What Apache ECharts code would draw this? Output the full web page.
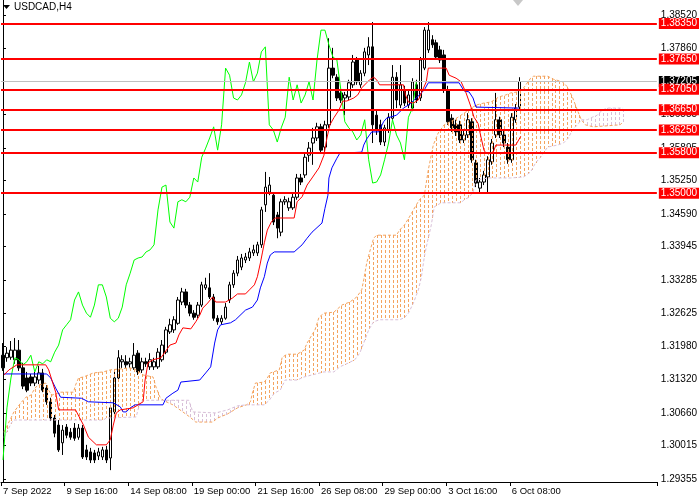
<!DOCTYPE html>
<html>
<head>
<meta charset="utf-8">
<script src="https://cdn.jsdelivr.net/npm/echarts@6/dist/echarts.min.js"></script>
<style>
  html, body { margin: 0; padding: 0; background: #fff; }
  #chart { width: 700px; height: 500px; }
</style>
</head>
<body>
<div id="chart"></div>
<script>
// USDCAD H4 with Ichimoku.
const symbolTitle = 'USDCAD,H4';

// one time label every 16 bars, bar 0 = 7 Sep 2022 00:00
const timeLabels = ['7 Sep 2022', '9 Sep 16:00', '14 Sep 08:00', '19 Sep 00:00', '21 Sep 16:00',
  '26 Sep 08:00', '29 Sep 00:00', '3 Oct 16:00', '6 Oct 08:00'];
const labelStep = 16;
const slotCount = 165; // bars + 26 bars of projected cloud + right margin

// [open, close, low, high]
const candles = [
  [1.3180, 1.3155, 1.3149, 1.3204], [1.3175, 1.3184, 1.3167, 1.3196], [1.3176, 1.3190, 1.3171, 1.3208],
  [1.3171, 1.3190, 1.3163, 1.3214], [1.3190, 1.3155, 1.3149, 1.3210], [1.3155, 1.3119, 1.3113, 1.3165],
  [1.3135, 1.3111, 1.3107, 1.3147], [1.3137, 1.3125, 1.3119, 1.3143], [1.3125, 1.3137, 1.3119, 1.3147],
  [1.3131, 1.3145, 1.3123, 1.3159], [1.3145, 1.3111, 1.3107, 1.3153], [1.3115, 1.3088, 1.3082, 1.3121],
  [1.3088, 1.3056, 1.3050, 1.3096], [1.3056, 1.3026, 1.3018, 1.3062], [1.3042, 1.2993, 1.2989, 1.3052],
  [1.3007, 1.3032, 1.2983, 1.3042], [1.3038, 1.3022, 1.3016, 1.3044], [1.3028, 1.3018, 1.3013, 1.3036],
  [1.3036, 1.3016, 1.3011, 1.3046], [1.3018, 1.3036, 1.3013, 1.3044], [1.3036, 1.2979, 1.2975, 1.3042],
  [1.2993, 1.2979, 1.2973, 1.3003], [1.2989, 1.2973, 1.2967, 1.2997], [1.2987, 1.2973, 1.2967, 1.2993],
  [1.2981, 1.2989, 1.2973, 1.2997], [1.2979, 1.2993, 1.2973, 1.2999], [1.2993, 1.2973, 1.2967, 1.3001],
  [1.2977, 1.3076, 1.2953, 1.3082], [1.3068, 1.3135, 1.3062, 1.3147], [1.3135, 1.3175, 1.3131, 1.3190],
  [1.3167, 1.3171, 1.3155, 1.3180], [1.3167, 1.3161, 1.3155, 1.3180], [1.3163, 1.3167, 1.3155, 1.3175],
  [1.3155, 1.3180, 1.3151, 1.3204], [1.3184, 1.3147, 1.3141, 1.3190], [1.3151, 1.3167, 1.3145, 1.3175],
  [1.3167, 1.3163, 1.3157, 1.3175], [1.3157, 1.3171, 1.3151, 1.3184], [1.3157, 1.3167, 1.3151, 1.3175],
  [1.3157, 1.3186, 1.3153, 1.3194], [1.3171, 1.3200, 1.3167, 1.3210], [1.3186, 1.3230, 1.3182, 1.3236],
  [1.3226, 1.3240, 1.3222, 1.3252], [1.3230, 1.3250, 1.3224, 1.3257], [1.3243, 1.3289, 1.3240, 1.3295],
  [1.3285, 1.3305, 1.3279, 1.3313], [1.3305, 1.3279, 1.3273, 1.3311], [1.3279, 1.3263, 1.3257, 1.3285],
  [1.3263, 1.3255, 1.3250, 1.3269], [1.3259, 1.3279, 1.3253, 1.3285], [1.3279, 1.3319, 1.3275, 1.3325],
  [1.3313, 1.3319, 1.3309, 1.3333], [1.3313, 1.3295, 1.3291, 1.3342], [1.3295, 1.3253, 1.3248, 1.3301],
  [1.3253, 1.3246, 1.3240, 1.3259], [1.3246, 1.3253, 1.3240, 1.3259], [1.3253, 1.3275, 1.3250, 1.3283],
  [1.3289, 1.3319, 1.3283, 1.3325], [1.3319, 1.3342, 1.3313, 1.3348], [1.3342, 1.3368, 1.3336, 1.3376],
  [1.3354, 1.3372, 1.3348, 1.3380], [1.3368, 1.3374, 1.3362, 1.3382], [1.3372, 1.3384, 1.3366, 1.3392],
  [1.3382, 1.3388, 1.3376, 1.3398], [1.3382, 1.3398, 1.3376, 1.3404], [1.3398, 1.3467, 1.3392, 1.3473],
  [1.3477, 1.3512, 1.3463, 1.3542], [1.3502, 1.3516, 1.3496, 1.3532], [1.3496, 1.3443, 1.3437, 1.3502],
  [1.3457, 1.3431, 1.3411, 1.3463], [1.3423, 1.3483, 1.3415, 1.3489], [1.3483, 1.3487, 1.3477, 1.3494],
  [1.3471, 1.3483, 1.3465, 1.3491], [1.3471, 1.3492, 1.3467, 1.3500], [1.3492, 1.3530, 1.3487, 1.3538],
  [1.3530, 1.3522, 1.3516, 1.3538], [1.3536, 1.3571, 1.3530, 1.3579], [1.3575, 1.3589, 1.3562, 1.3601],
  [1.3599, 1.3609, 1.3556, 1.3629], [1.3609, 1.3631, 1.3603, 1.3639], [1.3631, 1.3585, 1.3579, 1.3637],
  [1.3591, 1.3635, 1.3581, 1.3643], [1.3635, 1.3747, 1.3629, 1.3806], [1.3747, 1.3733, 1.3727, 1.3787],
  [1.3729, 1.3688, 1.3682, 1.3735], [1.3698, 1.3684, 1.3678, 1.3704], [1.3688, 1.3694, 1.3654, 1.3700],
  [1.3690, 1.3718, 1.3684, 1.3724], [1.3714, 1.3759, 1.3708, 1.3773], [1.3763, 1.3720, 1.3714, 1.3769],
  [1.3714, 1.3737, 1.3708, 1.3743], [1.3737, 1.3779, 1.3731, 1.3787], [1.3773, 1.3789, 1.3753, 1.3808],
  [1.3789, 1.3635, 1.3599, 1.3838], [1.3654, 1.3625, 1.3615, 1.3664], [1.3635, 1.3601, 1.3595, 1.3645],
  [1.3601, 1.3629, 1.3593, 1.3635], [1.3625, 1.3650, 1.3619, 1.3658], [1.3648, 1.3729, 1.3645, 1.3753],
  [1.3729, 1.3684, 1.3668, 1.3739], [1.3674, 1.3714, 1.3668, 1.3753], [1.3704, 1.3678, 1.3672, 1.3712],
  [1.3674, 1.3694, 1.3668, 1.3704], [1.3668, 1.3720, 1.3662, 1.3727], [1.3714, 1.3684, 1.3678, 1.3724],
  [1.3688, 1.3763, 1.3682, 1.3769], [1.3747, 1.3822, 1.3743, 1.3828], [1.3783, 1.3822, 1.3777, 1.3838],
  [1.3803, 1.3793, 1.3787, 1.3812], [1.3797, 1.3769, 1.3763, 1.3803], [1.3783, 1.3763, 1.3757, 1.3791],
  [1.3773, 1.3704, 1.3698, 1.3783], [1.3704, 1.3641, 1.3635, 1.3712], [1.3648, 1.3629, 1.3621, 1.3656],
  [1.3635, 1.3621, 1.3613, 1.3645], [1.3635, 1.3605, 1.3599, 1.3643], [1.3605, 1.3615, 1.3599, 1.3623],
  [1.3615, 1.3645, 1.3609, 1.3658], [1.3641, 1.3566, 1.3560, 1.3648], [1.3560, 1.3520, 1.3512, 1.3566],
  [1.3510, 1.3522, 1.3500, 1.3530], [1.3522, 1.3536, 1.3516, 1.3544], [1.3532, 1.3566, 1.3502, 1.3573],
  [1.3562, 1.3599, 1.3556, 1.3607], [1.3615, 1.3645, 1.3609, 1.3698], [1.3645, 1.3615, 1.3609, 1.3651],
  [1.3615, 1.3599, 1.3591, 1.3623], [1.3591, 1.3566, 1.3558, 1.3599], [1.3566, 1.3650, 1.3560, 1.3658],
  [1.3645, 1.3668, 1.3639, 1.3676], [1.3670, 1.37205, 1.3664, 1.3729]
];

// Ichimoku lines as [bar, price] turning points
const tenkan = [
  [0.25, 1.3141], [1.5, 1.3151], [3.5, 1.3161], [10.75, 1.3161], [11.5, 1.3151], [13.25, 1.3107], [14, 1.3072],
  [18.25, 1.3072], [20.25, 1.3042], [21.5, 1.3018], [23.5, 1.3003], [26, 1.3003], [27, 1.3013], [27.75, 1.3042],
  [28.5, 1.3066], [29.5, 1.3072], [32.75, 1.3076], [35.25, 1.3088], [35.75, 1.3131], [36.5, 1.3165],
  [37.75, 1.3171], [39.75, 1.3175], [40.75, 1.3186], [42, 1.3200], [43.5, 1.3204], [44.25, 1.3220],
  [45.25, 1.3234], [47.25, 1.3232], [48.5, 1.3246], [49.5, 1.3259], [50.25, 1.3273], [51.5, 1.3283],
  [52.75, 1.3295], [53.5, 1.3285], [56, 1.3285], [57.75, 1.3293], [59, 1.3301], [61, 1.3301], [62, 1.3309],
  [63.25, 1.3319], [64, 1.3335], [64.75, 1.3362], [65.25, 1.3382], [65.75, 1.3402], [66.5, 1.3427],
  [67.5, 1.3443], [68.5, 1.3451], [73.25, 1.3451], [74, 1.3483], [75.25, 1.3493], [76.5, 1.3516],
  [77.75, 1.3530], [79.5, 1.3550], [80.75, 1.3575], [81.5, 1.3609], [82.25, 1.3635], [83.25, 1.3649],
  [84.5, 1.3664], [85.5, 1.3682], [86.5, 1.3682], [88.25, 1.3688], [89.25, 1.3694], [90.25, 1.3708],
  [91.5, 1.3718], [92.25, 1.3724], [93.25, 1.3729], [94, 1.3724], [94.75, 1.3714], [100.75, 1.3714],
  [101.25, 1.3694], [102, 1.3680], [103.25, 1.3678], [104.5, 1.3684], [105.25, 1.3698], [106.5, 1.3720],
  [107, 1.3747], [111.5, 1.3747], [112.25, 1.3733], [114, 1.3727], [115.25, 1.3720], [116.5, 1.3698],
  [117.75, 1.3670], [118.5, 1.3650], [119.5, 1.3638], [120.25, 1.3611], [121, 1.3585], [121.5, 1.3579],
  [123.25, 1.3579], [124, 1.3595], [129, 1.3595], [130.25, 1.3612]
];
const kijun = [
  [0.25, 1.3143], [11, 1.3143], [12, 1.3135], [13.25, 1.3115], [14.5, 1.3097], [19.75, 1.3095], [21.5, 1.3088],
  [27.75, 1.3086], [29.5, 1.3078], [30.25, 1.3068], [31, 1.3068], [32, 1.3076], [33.25, 1.3082], [40.25, 1.3082],
  [41, 1.3095], [42.75, 1.3105], [44, 1.3111], [44.75, 1.3127], [49.5, 1.3131], [51, 1.3145], [52.25, 1.3157],
  [53.25, 1.3204], [54, 1.3230], [54.75, 1.3240], [57.25, 1.3244], [58.5, 1.3250], [61, 1.3269], [62.75, 1.3275],
  [64, 1.3289], [64.75, 1.3313], [65.75, 1.3335], [66.5, 1.3362], [67.25, 1.3378], [68.25, 1.3384],
  [73.25, 1.3384], [75.25, 1.3398], [76.5, 1.3411], [77.75, 1.3423], [80.25, 1.3441], [81, 1.3470],
  [81.75, 1.3496], [82, 1.3530], [82.75, 1.3550], [84, 1.3569], [84.75, 1.3579], [90.25, 1.3581],
  [90.75, 1.3595], [91.5, 1.3607], [92.75, 1.3621], [94.5, 1.3621], [95.75, 1.3641], [96.5, 1.3648],
  [99, 1.3654], [99.75, 1.3660], [100.75, 1.3668], [102, 1.3674], [103.5, 1.3684], [104.75, 1.3694],
  [106, 1.3704], [107, 1.3718], [114.75, 1.3718], [116, 1.3702], [117.25, 1.3700], [118.25, 1.3688],
  [119, 1.3670], [119.5, 1.3668], [129.75, 1.3668]
];
// cloud edges (already shifted 26 bars ahead); twists are shared points
const spanA = [
  [0.25, 1.3028], [2.75, 1.3068], [4.5, 1.3086], [5.75, 1.3097], [7, 1.3101], [8.25, 1.3117], [9, 1.3121],
  [10.75, 1.3125], [11.5, 1.3111], [12.25, 1.3101], [14.5, 1.3107], [17.75, 1.3107], [18.25, 1.3121],
  [19, 1.3135], [20.25, 1.3137], [22.75, 1.3145], [25.25, 1.3147], [27, 1.3151], [32, 1.3155], [33.5, 1.3151],
  [35.25, 1.3141], [37.75, 1.3137], [38.5, 1.3117], [39.5, 1.3097], [40.25, 1.3091],
  [42.75, 1.3082], [45.25, 1.3068], [47, 1.3058], [48.5, 1.3048], [52.75, 1.3048], [54, 1.3056],
  [56.5, 1.3064], [59, 1.3076], [61.25, 1.3082],
  [62.25, 1.3088], [62.75, 1.3105], [63.5, 1.3125], [65.75, 1.3127], [66.5, 1.3135], [67.25, 1.3145],
  [69.5, 1.3151], [70.25, 1.3176], [71.5, 1.3182], [74, 1.3182], [75.75, 1.3190], [76.5, 1.3204],
  [78.5, 1.3230], [79.5, 1.3255], [80.75, 1.3263], [83.25, 1.3265], [85.25, 1.3279], [87.25, 1.3285],
  [89, 1.3295], [90.25, 1.3309], [90.75, 1.3329], [91.5, 1.3362], [92.25, 1.3384], [93.25, 1.3411],
  [94, 1.3417], [99, 1.3417], [99.75, 1.3427], [101, 1.3437], [102.25, 1.3453], [103.25, 1.3467],
  [104.75, 1.3487], [106, 1.3496], [107, 1.3546], [108.25, 1.3595], [109.5, 1.3619], [111, 1.3635],
  [113.5, 1.3645], [116, 1.3658], [119, 1.3674], [121, 1.3678], [122.75, 1.3680], [124.75, 1.3690],
  [126.5, 1.3694], [127.75, 1.3698], [129.5, 1.3700], [131, 1.3708], [132.75, 1.3727], [133.5, 1.3731],
  [137, 1.3731], [138.5, 1.3725], [140.75, 1.3720], [142, 1.3710], [143.25, 1.3690], [144.5, 1.3664],
  [145.5, 1.3645],
  [146.5, 1.3635], [148.5, 1.3631], [155.25, 1.3635], [156, 1.3641]
];
const spanB = [
  [0.25, 1.3018], [2.25, 1.3048], [2.75, 1.3052], [25.25, 1.3052], [26, 1.3056], [33.5, 1.3058],
  [34.5, 1.3088], [35.25, 1.3091], [40.25, 1.3091],
  [46.75, 1.3091], [47.75, 1.3068], [53.5, 1.3066], [56.5, 1.3072], [59, 1.3080], [61.25, 1.3082],
  [65.75, 1.3082], [67, 1.3091], [68.25, 1.3105], [69.75, 1.3111], [71, 1.3131], [74, 1.3131],
  [75.75, 1.3137], [77.75, 1.3141], [80.75, 1.3147], [83.25, 1.3147], [84.75, 1.3157], [87, 1.3165],
  [88.5, 1.3171], [89.75, 1.3184], [90.75, 1.3204], [92, 1.3230], [93.25, 1.3246], [94.75, 1.3250],
  [99.75, 1.3250], [101, 1.3254], [102, 1.3263], [103.25, 1.3283], [104.5, 1.3309], [105.25, 1.3334],
  [106, 1.3374], [106.5, 1.3394], [107.75, 1.3437], [108.5, 1.3473], [110.25, 1.3481], [115.25, 1.3481],
  [116, 1.3487], [117.25, 1.3492], [118.25, 1.3502], [119, 1.3526], [122.25, 1.3530], [127.75, 1.3530],
  [131, 1.3532], [132.75, 1.3542], [134, 1.3560], [135.25, 1.3571], [137, 1.3591], [139.5, 1.3595],
  [141, 1.3599], [142.25, 1.3609], [143.25, 1.3625], [144.5, 1.3635], [145.5, 1.3645],
  [147, 1.3645], [148.25, 1.3650], [149.5, 1.3654], [150.75, 1.3664], [152, 1.3668], [156, 1.3668]
];
const kumoTwists = [40.25, 61.25, 145.5];
const chikouShift = 26;

const levels = [1.3835, 1.3765, 1.3705, 1.3665, 1.3625, 1.3580, 1.3500];
const bidPrice = 1.37205;
const priceTicks = [1.3852, 1.3786, 1.37205, 1.36555, 1.35895, 1.3525, 1.3459, 1.33945, 1.33285,
  1.32625, 1.3198, 1.3132, 1.3066, 1.30015, 1.29355];
const priceMin = 1.29296;
const priceMax = 1.38815;

const FONT = 'Liberation Sans, Arial, sans-serif';
const BULL = '#F4A460';
const BEAR = '#D8BFD8';

const categories = [];
for (let i = 0; i < slotCount; i++) {
  categories.push(i % labelStep === 0 && timeLabels[i / labelStep] ? timeLabels[i / labelStep] : '');
}
const closes = candles.map((c) => c[1]);

const edges = [spanA[0][0], ...kumoTwists, spanA[spanA.length - 1][0]];
const cloudRegions = edges.slice(1).map((end, k) => [edges[k], end]);

// pixel y of a drawn polyline at pixel x (screen geometry only)
function yOnPath(path, x) {
  for (let k = 1; k < path.length; k++) {
    const a = path[k - 1], b = path[k];
    if (x >= a[0] - 0.01 && x <= b[0] + 0.01) {
      if (b[0] === a[0]) return a[1];
      return a[1] + (b[1] - a[1]) * (x - a[0]) / (b[0] - a[0]);
    }
  }
  return null;
}

// MT4 style hatch: a dotted vertical line per bar running from span A to span B
function renderCloud(params, api) {
  const [from, to] = cloudRegions[params.dataIndex];
  const inside = (p) => p[0] >= from - 1e-6 && p[0] <= to + 1e-6;
  const pathA = spanA.filter(inside).map((p) => api.coord(p));
  const pathB = spanB.filter(inside).map((p) => api.coord(p));
  const color = params.dataIndex % 2 ? BEAR : BULL;
  const children = [];
  for (let i = Math.ceil(from); i <= Math.floor(to); i++) {
    const cx = api.coord([i, priceMin])[0];
    const ya = yOnPath(pathA, cx);
    const yb = yOnPath(pathB, cx);
    if (ya === null || yb === null || Math.abs(yb - ya) < 1) continue;
    const x = Math.round(cx) + 0.5;
    children.push({
      type: 'line',
      shape: { x1: x, y1: Math.round(ya), x2: x, y2: Math.round(yb) },
      style: { stroke: color, lineWidth: 1, lineDash: [3, 2] }
    });
  }
  return { type: 'group', children: children };
}

function lineSeries(name, data, color, extra) {
  return Object.assign({
    name: name,
    type: 'line',
    xAxisIndex: 1,
    data: data,
    showSymbol: false,
    symbol: 'none',
    silent: true,
    z: 4,
    lineStyle: { color: color, width: 1 }
  }, extra || {});
}

const levelLines = levels.map((v) => ({
  yAxis: v,
  lineStyle: { color: '#FF0000', width: 2, type: 'solid' },
  label: { backgroundColor: '#FF0000', color: '#FFFFFF' }
}));
levelLines.unshift({
  yAxis: bidPrice,
  lineStyle: { color: '#C0C0C0', width: 1, type: 'solid' },
  label: { backgroundColor: '#000000', color: '#FFFFFF' }
});

const chart = echarts.init(document.getElementById('chart'), null, { renderer: 'canvas' });
chart.setOption({
  animation: false,
  backgroundColor: '#FFFFFF',
  grid: { left: -2, right: 43, top: 0, bottom: 18, containLabel: false },
  xAxis: [
    {
      type: 'category',
      data: categories,
      boundaryGap: true,
      axisLine: { lineStyle: { color: '#000', width: 1 } },
      axisTick: {
        show: true, length: 4, lineStyle: { color: '#000' },
        interval: (i, v) => v !== ''
      },
      axisLabel: {
        interval: (i, v) => v !== '',
        align: 'left', margin: 4, color: '#000', fontSize: 9.5, fontFamily: FONT
      },
      splitLine: { show: false }
    },
    { type: 'value', min: -0.5, max: slotCount - 0.5, show: false }
  ],
  yAxis: {
    type: 'value',
    position: 'right',
    min: priceMin,
    max: priceMax,
    scale: true,
    axisLine: { show: true, lineStyle: { color: '#000', width: 1 } },
    axisTick: { show: true, length: 3, customValues: priceTicks, lineStyle: { color: '#000' } },
    axisLabel: {
      customValues: priceTicks, margin: 4, color: '#000', fontSize: 10, fontFamily: FONT,
      formatter: (v) => v.toFixed(5)
    },
    splitLine: { show: false }
  },
  graphic: [
    { type: 'polygon', shape: { points: [[3, 5], [10, 5], [6.5, 9]] }, style: { fill: '#000' } },
    {
      type: 'text', left: 14, top: 2,
      style: { text: symbolTitle, fill: '#000', font: '10px ' + FONT }
    },
    { type: 'polygon', shape: { points: [[513, 0], [523, 0], [518, 6]] }, style: { fill: '#C8C8C8' } }
  ],
  series: [
    {
      name: symbolTitle,
      type: 'candlestick',
      xAxisIndex: 0,
      data: candles,
      barWidth: 3,
      silent: true,
      z: 2,
      itemStyle: {
        color: '#FFFFFF', color0: '#000000',
        borderColor: '#000000', borderColor0: '#000000', borderWidth: 1
      }
    },
    {
      name: 'Kumo',
      type: 'custom',
      xAxisIndex: 1,
      data: cloudRegions,
      encode: { x: [0, 1] },
      renderItem: renderCloud,
      silent: true,
      z: 3
    },
    lineSeries('Senkou A', spanA, BULL, { lineStyle: { color: BULL, width: 1, type: [3, 2] }, z: 3 }),
    lineSeries('Senkou B', spanB, BEAR, { lineStyle: { color: BEAR, width: 1, type: [3, 2] }, z: 3 }),
    lineSeries('Chikou', closes.slice(chikouShift), '#00FF00', { xAxisIndex: 0 }),
    lineSeries('Kijun', kijun, '#0000FF'),
    lineSeries('Tenkan', tenkan, '#FF0000'),
    {
      name: 'Levels',
      type: 'line',
      xAxisIndex: 1,
      data: [],
      silent: true,
      z: 6,
      markLine: {
        silent: true,
        symbol: ['none', 'none'],
        precision: 5,
        animation: false,
        label: {
          position: 'end', distance: 2, fontSize: 10, fontFamily: FONT,
          padding: [1, 2, 0, 2], formatter: (p) => Number(p.value).toFixed(5)
        },
        data: levelLines
      }
    }
  ]
});
</script>
</body>
</html>
